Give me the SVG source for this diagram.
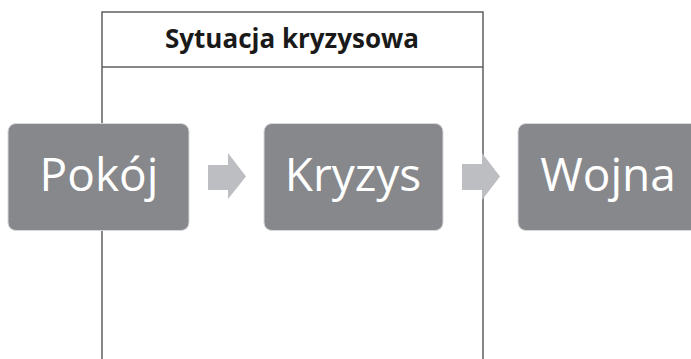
<svg xmlns="http://www.w3.org/2000/svg" width="691" height="359" viewBox="0 0 691 359">
<style>
.frame{fill:none;stroke:#5f5f5f;stroke-width:1.5}
.box{fill:#87888c;stroke:#d8d8da;stroke-width:1}
.lbl{font-family:"Open Sans","Liberation Sans",sans-serif;font-size:46px;fill:#ffffff;text-anchor:middle}
.title{font-family:"Open Sans","Liberation Sans",sans-serif;font-size:26px;font-weight:bold;fill:#1a1a1a;text-anchor:middle}
.arr{fill:#bdbec1}
</style>
<rect width="691" height="359" fill="#ffffff"/>
<g id="frame">
<path class="frame" d="M102,359 V12 H483 V359"/>
<line class="frame" x1="102" y1="67" x2="483" y2="67"/>
<text class="title" x="292" y="48">Sytuacja kryzysowa</text>
</g>
<g id="connectors">
<polygon class="arr" points="208,165 228,165 228,153 246,176.5 228,199 228,190 208,190"/>
<polygon class="arr" points="462,164 482,164 482,153 500,176.5 482,200 482,190 462,190"/>
</g>
<g id="node-pokoj">
<rect class="box" x="8" y="123.5" width="181" height="107" rx="8"/>
<text class="lbl" x="99" y="191">Pokój</text>
</g>
<g id="node-kryzys">
<rect class="box" x="264" y="123.5" width="179" height="107" rx="8"/>
<text class="lbl" x="353" y="191">Kryzys</text>
</g>
<g id="node-wojna">
<rect class="box" x="518" y="123.5" width="185" height="107" rx="8"/>
<text class="lbl" x="608" y="191">Wojna</text>
</g>
</svg>
